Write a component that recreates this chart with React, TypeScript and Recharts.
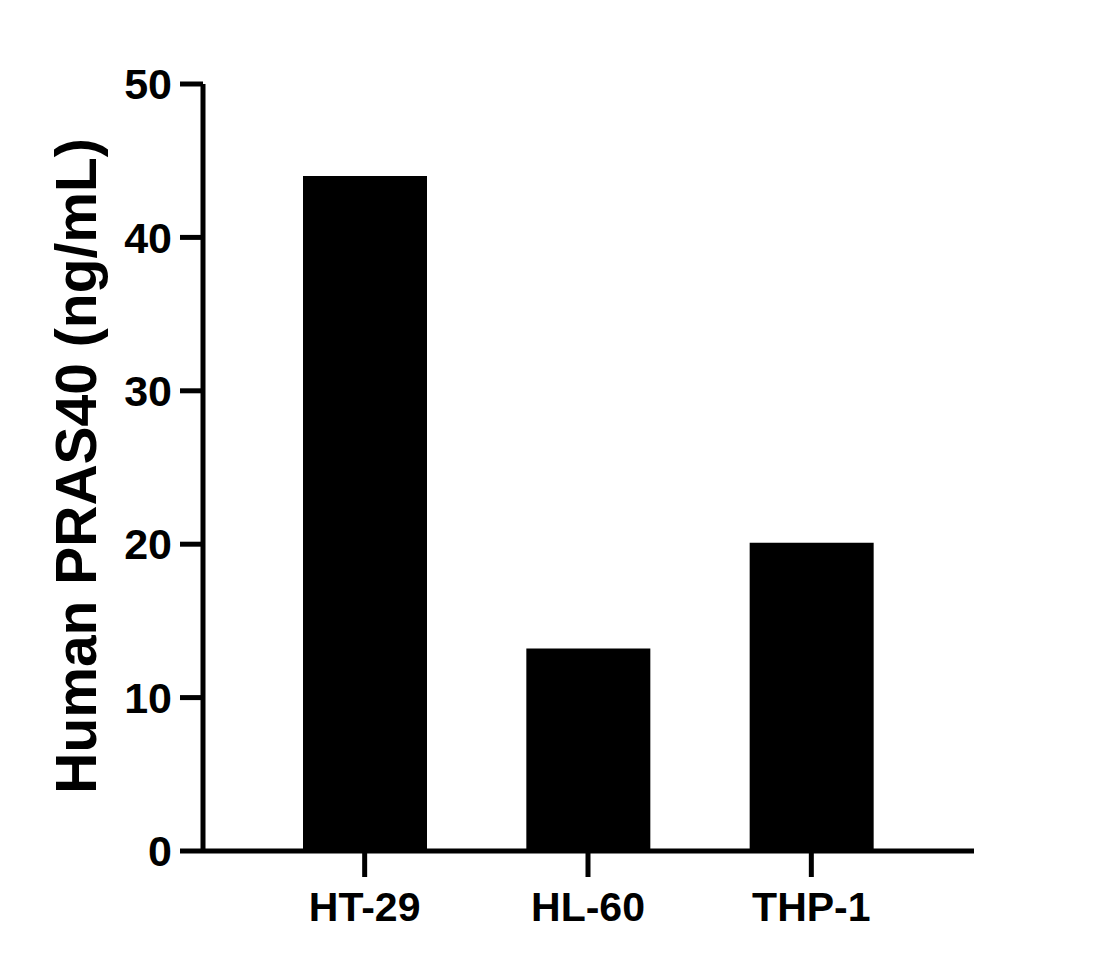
import { BarChart, Bar, XAxis, YAxis, Label } from "recharts";

const cellLines = ["HT-29", "HL-60", "THP-1"];
const pras40Values = [44.0, 13.2, 20.1];
const yTicks = [0, 10, 20, 30, 40, 50];

const data = cellLines.map((name, i) => ({ name, value: pras40Values[i] }));

const font = "'Liberation Sans', Arial, sans-serif";

const YLabel = () => (
  <text
    transform="rotate(-90)"
    x={-466}
    y={96}
    textAnchor="middle"
    fontFamily={font}
    fontWeight="bold"
    fontSize={57}
    fill="#000"
  >
    Human PRAS40 (ng/mL)
  </text>
);

export default function App() {
  return (
    <div style={{ position: "absolute", left: 0, top: 0, width: 1110, height: 968, background: "#fff" }}>
      <BarChart
        width={1110}
        height={968}
        data={data}
        margin={{ top: 84, right: 136, bottom: 0, left: 83 }}
        barSize={124}
      >
        <XAxis
          dataKey="name"
          height={117}
          padding={{ left: 50, right: 51 }}
          axisLine={{ stroke: "#000", strokeWidth: 5 }}
          tickLine={{ stroke: "#000", strokeWidth: 5 }}
          tickSize={26}
          tickMargin={15}
          tick={{ fill: "#000", fontSize: 41, fontWeight: "bold", fontFamily: font }}
        />
        <YAxis
          width={120}
          domain={[0, 50]}
          ticks={yTicks}
          interval={0}
          axisLine={{ stroke: "#000", strokeWidth: 5 }}
          tickLine={{ stroke: "#000", strokeWidth: 5 }}
          tickSize={23}
          tickMargin={8}
          tick={{ fill: "#000", fontSize: 43, fontWeight: "bold", fontFamily: font }}
        >
          <Label content={<YLabel />} />
        </YAxis>
        <Bar dataKey="value" fill="#000" isAnimationActive={false} />
      </BarChart>
    </div>
  );
}
